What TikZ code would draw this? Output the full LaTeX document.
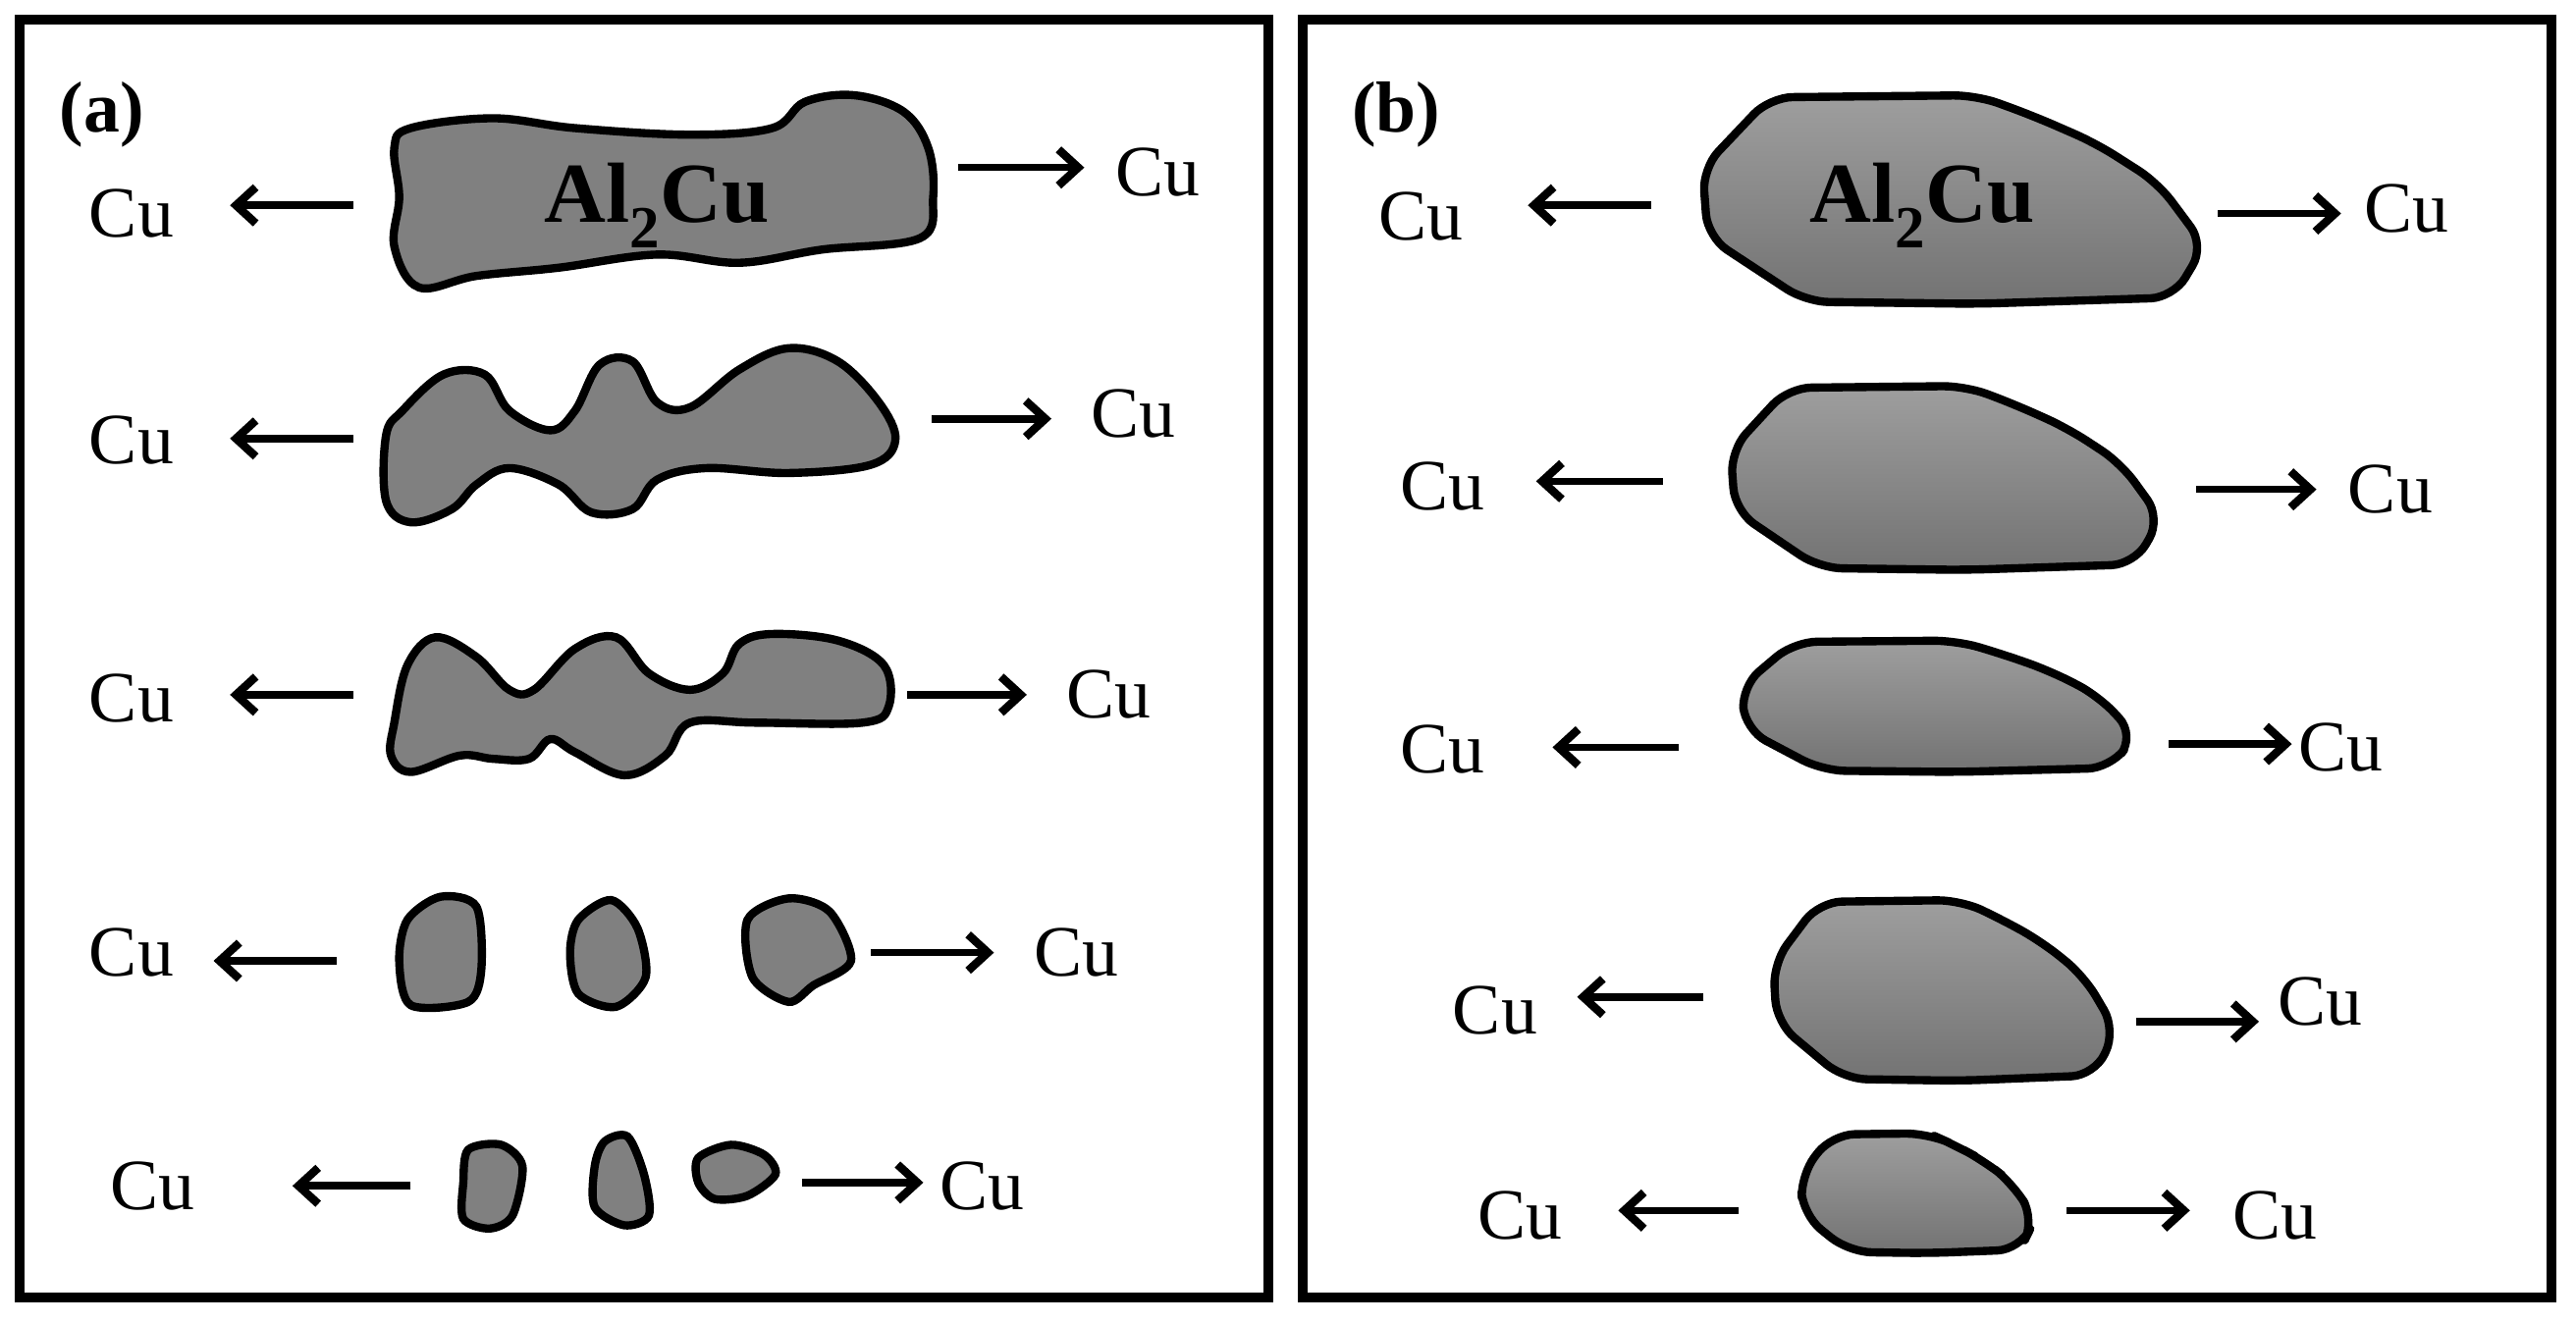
\documentclass[tikz,border=0pt]{standalone}
\usepackage{fontspec}
\setmainfont{Liberation Serif}
\usetikzlibrary{arrows.meta}
\begin{document}
\begin{tikzpicture}[x=1pt,y=-1pt,
  frame/.style={line width=5.5pt},
  arr/.style={line width=4.5pt,-{Straight Barb[length=12pt,width=22pt,line width=5pt]}},
  cu/.style={font=\fontsize{44}{50}\selectfont},
  lab/.style={font=\fontsize{44}{50}\selectfont\bfseries},
  big/.style={font=\fontsize{52}{58}\selectfont\bfseries},
  bfill/.style={line width=5pt,draw=black,top color=black!38,bottom color=black!55,rounded corners=14pt,line join=round},
  afill/.style={line width=5pt,draw=black,fill=black!50}]
\useasboundingbox (0,0) rectangle (1568,805);
\draw[frame] (12,12) rectangle (772,790);
\draw[frame] (793,12) rectangle (1553,790);
\node[lab] (la) at (62,70) {(a)};
\node[lab] (lb) at (850,70) {(b)};
% panel a blobs
\draw[afill] plot[smooth cycle,tension=0.6] coordinates {(240,90)(250,78)(300,72)(350,78)(420,82)(470,78)(490,62)(520,58)(550,68)(565,90)(568,120)(560,145)(500,152)(450,160)(400,155)(340,163)(290,168)(255,175)(240,150)(243,120)};
\node[big] (al1) at (400,125) {Al\textsubscript{2}Cu};
\draw[afill] plot[smooth cycle,tension=0.6] coordinates {(235,265)(245,250)(270,228)(295,228)(310,250)(335,262)(350,250)(365,222)(385,220)(400,245)(420,248)(450,225)(480,212)(510,220)(535,245)(545,268)(530,283)(480,288)(430,285)(400,292)(385,310)(360,312)(340,295)(310,285)(290,295)(275,310)(250,318)(235,305)};
\draw[afill] plot[smooth cycle,tension=0.6] coordinates {(240,440)(248,405)(265,388)(290,400)(310,420)(325,420)(350,395)(375,388)(395,410)(420,420)(440,410)(450,392)(470,386)(510,390)(538,405)(541,430)(525,440)(460,440)(420,440)(405,460)(380,472)(350,458)(335,450)(322,462)(300,462)(280,460)(250,470)(238,460)};
\draw[afill] plot[smooth cycle] coordinates {(248,560)(268,546)(290,552)(293,590)(285,610)(250,612)(243,585)};
\draw[afill] plot[smooth cycle] coordinates {(352,560)(372,548)(388,565)(393,595)(375,613)(352,605)(347,580)};
\draw[afill] plot[smooth cycle] coordinates {(455,560)(480,547)(505,555)(518,585)(495,600)(480,610)(458,595)};
\draw[afill] plot[smooth cycle] coordinates {(285,700)(305,697)(318,710)(312,740)(298,748)(282,742)(282,720)};
\draw[afill] plot[smooth cycle] coordinates {(368,695)(382,692)(392,715)(395,740)(380,746)(362,735)(362,710)};
\draw[afill] plot[smooth cycle] coordinates {(425,705)(445,697)(465,703)(472,715)(455,728)(435,730)(425,720)};
% panel a labels/arrows
\foreach \n/\cx/\cy/\ax/\bx/\ay in {1/80/130/215/140/125, 2/80/268/215/140/267, 3/80/425/215/140/423, 4/80/580/205/130/585, 5/93/722/250/178/722}{
  \node[cu] (aL\n) at (\cx,\cy) {Cu};
  \coordinate (aLs\n) at (\ax,\ay); \coordinate (aLe\n) at (\bx,\ay);
  \draw[arr] (aLs\n) -- (aLe\n);}
\foreach \n/\cx/\cy/\ax/\bx/\ay in {1/705/105/583/660/102, 2/690/252/567/640/255, 3/675/423/552/625/423, 4/655/580/530/605/580, 5/598/722/488/562/720}{
  \node[cu] (aR\n) at (\cx,\cy) {Cu};
  \coordinate (aRs\n) at (\ax,\ay); \coordinate (aRe\n) at (\bx,\ay);
  \draw[arr] (aRs\n) -- (aRe\n);}
% panel b blobs
\foreach \x/\y/\w/\h in {1030/58/315/127, 1048/235/270/112, 1055/390/247/80, 1075/548/215/110, 1093/690/147/73}{
  \draw[bfill] ({\x+0.02*\w},{\y+0.35*\h}) -- ({\x+0.15*\w},{\y+0.01*\h}) -- ({\x+0.55*\w},{\y}) -- ({\x+0.66*\w},{\y+0.1*\h})
   -- ({\x+0.78*\w},{\y+0.23*\h}) -- ({\x+0.9*\w},{\y+0.42*\h}) -- ({\x+0.99*\w},{\y+0.72*\h}) -- ({\x+0.93*\w},{\y+0.97*\h})
   -- ({\x+0.55*\w},{\y+\h}) -- ({\x+0.22*\w},{\y+0.99*\h}) -- ({\x+0.03*\w},{\y+0.68*\h}) -- cycle;}
\node[big] (al2) at (1170,125) {Al\textsubscript{2}Cu};
\foreach \n/\cx/\cy/\ax/\bx/\ay in {1/865/132/1005/930/125, 2/878/296/1012/935/293, 3/878/456/1022/945/455, 4/910/615/1037/960/607, 5/925/740/1058/985/737}{
  \node[cu] (bL\n) at (\cx,\cy) {Cu};
  \coordinate (bLs\n) at (\ax,\ay); \coordinate (bLe\n) at (\bx,\ay);
  \draw[arr] (bLs\n) -- (bLe\n);}
\foreach \n/\cx/\cy/\ax/\bx/\ay in {1/1465/127/1350/1425/130, 2/1455/298/1337/1410/298, 3/1425/455/1320/1395/453, 4/1412/610/1300/1375/622, 5/1385/740/1258/1333/737}{
  \node[cu] (bR\n) at (\cx,\cy) {Cu};
  \coordinate (bRs\n) at (\ax,\ay); \coordinate (bRe\n) at (\bx,\ay);
  \draw[arr] (bRs\n) -- (bRe\n);}
\end{tikzpicture}
\end{document}
